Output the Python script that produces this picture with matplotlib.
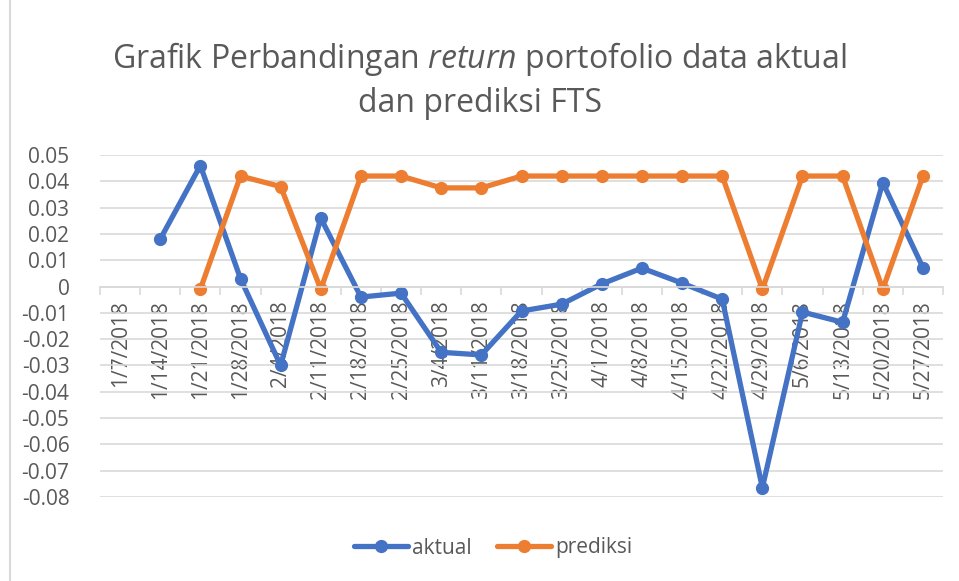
import numpy as np
import matplotlib.pyplot as plt

plt.rcParams["font.family"] = ["Open Sans", "DejaVu Sans"]
plt.rcParams["mathtext.fontset"] = "custom"
plt.rcParams["mathtext.rm"] = "Open Sans"
plt.rcParams["mathtext.it"] = "Open Sans:italic"

dates = ["1/7/2018", "1/14/2018", "1/21/2018", "1/28/2018", "2/4/2018", "2/11/2018",
         "2/18/2018", "2/25/2018", "3/4/2018", "3/11/2018", "3/18/2018", "3/25/2018",
         "4/1/2018", "4/8/2018", "4/15/2018", "4/22/2018", "4/29/2018", "5/6/2018",
         "5/13/2018", "5/20/2018", "5/27/2018"]
aktual = [np.nan, 0.018, 0.046, 0.003, -0.030, 0.026, -0.004, -0.0025, -0.025, -0.026,
          -0.0093, -0.0067, 0.001, 0.007, 0.0013, -0.0048, -0.0765, -0.0097, -0.0136,
          0.0395, 0.0072]
prediksi = [np.nan, np.nan, -0.001, 0.042, 0.038, -0.001, 0.042, 0.042, 0.0375, 0.0375,
            0.042, 0.042, 0.042, 0.042, 0.042, 0.042, -0.001, 0.042, 0.042, -0.001, 0.042]
yticks = [0.05, 0.04, 0.03, 0.02, 0.01, 0, -0.01, -0.02, -0.03, -0.04, -0.05, -0.06, -0.07, -0.08]

blue = "#4472C4"
orange = "#ED7D31"
grid = "#D9D9D9"
txt = "#595959"

fig = plt.figure(figsize=(9.59, 5.81), dpi=100)
ax = fig.add_axes([100 / 959, 1 - 497 / 581, 843 / 959, 342 / 581])

# chart border on the left
fig.add_artist(plt.Line2D([10 / 959, 10 / 959], [0, 1], color=grid, lw=1.5))

x = np.arange(len(dates))
ax.plot(x, aktual, color=blue, lw=3.8, marker="o", ms=8.5, label="aktual", solid_capstyle="round")
ax.plot(x, prediksi, color=orange, lw=3.8, marker="o", ms=8.5, label="prediksi", solid_capstyle="round")

ax.set_xlim(-0.5, len(dates) - 0.5)
ax.set_ylim(-0.08, 0.05)
ax.set_yticks(yticks)
ax.set_yticklabels([("%g" % v) for v in yticks], color=txt, fontsize=15)
ax.tick_params(axis="y", length=0, pad=22)
ax.grid(axis="y", color=grid, lw=1.2)
ax.set_axisbelow(True)

for s in ["top", "right", "left"]:
    ax.spines[s].set_visible(False)
ax.spines["bottom"].set_position(("data", 0))
ax.spines["bottom"].set_color(grid)
ax.spines["bottom"].set_linewidth(1.2)

ax.set_xticks(x)
ax.set_xticklabels(dates, rotation=90, color=txt, fontsize=15, va="top")
ax.set_xticks(np.arange(len(dates) + 1) - 0.5, minor=True)
ax.tick_params(axis="x", which="major", length=0, pad=10)
ax.tick_params(axis="x", which="minor", length=6, color=grid, width=1.2)

fig.text(0.5, 1 - 80 / 581, "Grafik Perbandingan $\\it{return}$ portofolio data aktual\ndan prediksi FTS",
         ha="center", va="center", fontsize=23, color=txt, linespacing=1.35)

fig.legend(loc="center", bbox_to_anchor=(493 / 959, 1 - 548 / 581), ncol=2, frameon=False,
           fontsize=15, labelcolor=txt, handlelength=2.6, columnspacing=1.2, handletextpad=0.2)

fig.savefig("out.png", dpi=100)
